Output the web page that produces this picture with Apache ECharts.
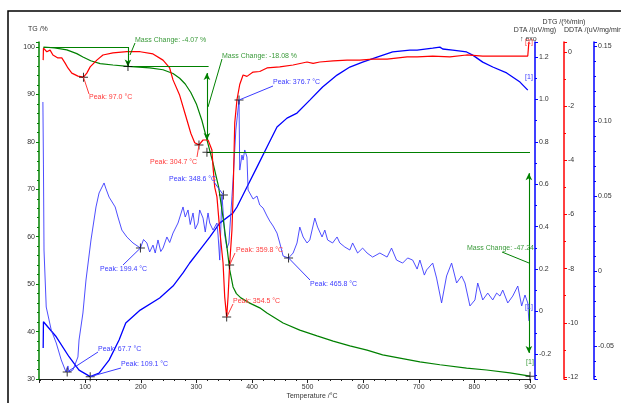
<!DOCTYPE html>
<html>
<head>
<meta charset="utf-8">
<script src="https://cdn.jsdelivr.net/npm/echarts@6.0.0/dist/echarts.min.js"></script>
<style>
  html, body { margin: 0; padding: 0; background: #fff; }
  #chart { width: 621px; height: 403px; }
</style>
</head>
<body>
<div id="chart"></div>
<script>
// temperature in °C, then value on the curve's own axis
const tgData = [[25,100],[45,99.8],[67,99.4],[85,98.6],[96,97.9],[110,97.1],[127,96.5],[150,96.2],[177,95.9],[216,95.6],[240,95.2],[258,94.4],[270,93.4],[280,92.2],[290,90.4],[300,88.0],[310,84.5],[320,80],[330,75.5],[340,70.5],[348,64],[355,57.8],[360,53],[366,49.4],[372,48.0],[380,47.1],[396,46],[414,45],[427,43.9],[456,41.8],[486,40.3],[517,39.1],[546,38],[576,37],[607,36.1],[635,35.1],[666,34.4],[702,33.6],[738,33],[786,32.3],[822,31.9],[864,31.3],[900,30.6]];

const dtgData = [[24.5,-0.3],[25,0.14],[31,0.01],[37,0.07],[42,-0.11],[51,-0.22],[58,-0.22],[64,-0.41],[69,-0.59],[76,-0.78],[87,-0.89],[97,-0.93],[103,-0.78],[109,-0.55],[121,-0.30],[132,-0.11],[150,-0.03],[175,0.01],[199,0.01],[222,-0.07],[240,-0.30],[252,-0.59],[258,-1.03],[270,-1.6],[280,-2.3],[290,-3.0],[297,-3.35],[304.7,-3.43],[312,-3.25],[321,-3.25],[328,-3.62],[330,-4.25],[333,-4.99],[337,-5.35],[342,-6.57],[348,-7.79],[351,-9.05],[354.5,-9.79],[357,-9.05],[360,-7.79],[364,-6.57],[366,-5.35],[369,-2.62],[373,-1.77],[378,-1.2],[384,-0.85],[391,-0.9],[402,-0.74],[414,-0.72],[427,-0.59],[450,-0.55],[474,-0.48],[499,-0.37],[510,-0.42],[522,-0.37],[546,-0.33],[571,-0.30],[594,-0.30],[617,-0.26],[643,-0.26],[679,-0.18],[697,-0.18],[725,-0.15],[756,-0.18],[786,-0.11],[815,-0.15],[846,-0.15],[882,-0.15],[896,-0.15],[898,0.37]];

const dtaData = [[24.5,-0.172],[25,-0.048],[48,-0.119],[71,-0.213],[89,-0.276],[109.1,-0.307],[125,-0.29],[143,-0.229],[161,-0.134],[173,-0.054],[199,0.007],[234,0.064],[258,0.12],[276,0.182],[288,0.229],[306,0.29],[324,0.351],[342,0.417],[366,0.465],[373,0.493],[391,0.587],[409,0.681],[427,0.776],[445,0.87],[463,0.912],[481,0.936],[504,0.997],[527,1.059],[553,1.115],[576,1.153],[599,1.176],[625,1.2],[653,1.224],[684,1.233],[697,1.233],[725,1.242],[738,1.247],[743,1.238],[761,1.233],[786,1.224],[797,1.209],[815,1.176],[833,1.153],[858,1.125],[882,1.082],[896,1.044]];

const ddtaData = [[24,0.1127],[25,0.0707],[26,0.014],[30,-0.024],[39,-0.0393],[48,-0.048],[57,-0.0593],[65.5,-0.0673],[67.7,-0.0673],[69,-0.0633],[71,-0.0673],[78,-0.066],[87,-0.0573],[89,-0.046],[96,-0.028],[101.5,-0.006],[110.5,0.0207],[119.5,0.0427],[125,0.052],[134,0.0587],[137,0.0553],[143,0.0493],[154,0.0427],[159,0.036],[166,0.0273],[175,0.0227],[186,0.0187],[199.4,0.0153],[205,0.021],[211,0.0187],[216,0.0127],[222,0.0173],[226,0.012],[231,0.0207],[236,0.013],[240,0.0153],[247,0.0227],[252,0.019],[258,0.0253],[267,0.032],[276,0.0427],[280,0.036],[285,0.0407],[289,0.031],[294,0.0387],[298,0.028],[303,0.032],[306,0.0407],[312,0.0353],[316,0.026],[319,0.034],[321,0.0387],[324,0.032],[330,0.0273],[337,0.032],[339,0.024],[342,0.0073],[346,0.0507],[348.6,0.0507],[351,0.024],[355,0.0153],[358.5,0.0187],[366,0.0607],[371,0.094],[376.7,0.114],[378,0.0673],[382,0.0773],[384,0.074],[387,0.0807],[391,0.076],[393,0.054],[402,0.048],[409,0.05],[414,0.044],[420,0.042],[427,0.0367],[432,0.0333],[438,0.03],[445,0.0253],[450,0.0187],[456,0.01],[465.8,0.0087],[474,0.012],[481,0.0187],[486,0.0293],[492,0.0227],[499,0.0187],[504,0.0207],[513,0.0353],[518,0.0293],[526,0.0227],[531,0.0273],[536,0.0207],[545,0.0187],[553,0.0227],[558,0.0187],[567,0.016],[576,0.014],[581,0.0187],[590,0.012],[599,0.0153],[607,0.012],[617,0.0093],[630,0.012],[643,0.0093],[651,0.0153],[660,0.0073],[671,0.0053],[680,0.0087],[689,0.0073],[697,0.0013],[702,0.0073],[710,-0.0027],[714,0.0007],[725,0.0053],[732,-0.0047],[741,-0.0213],[750,-0.0033],[759,0.0053],[768,-0.008],[777,-0.0033],[783,-0.008],[792,-0.0233],[801,-0.0193],[806,-0.008],[815,-0.0193],[824,-0.0147],[833,-0.0193],[840,-0.0147],[846,-0.0167],[851,-0.0127],[860,-0.0213],[869,-0.0167],[878,-0.01],[885,-0.0233],[891,-0.016],[896,-0.0213],[898,-0.0333]];

// peak markers
const tgMarks = [[177,95.9],[319,77.8],[900,30.6]];
const dtgPeaks = [[97.0,-0.93],[304.7,-3.43],[354.5,-9.79],[359.8,-7.87]];
const dtaPeaks = [[109.1,-0.307]];
const ddtaPeaks = [[67.7,-0.0673],[199.4,0.0153],[348.6,0.0507],[376.7,0.114],[465.8,0.0087]];

// mass change steps: [T from, T to, TG level] and arrows [T, TG top, TG bottom]
const massText = ['Mass Change: -4.07 %', 'Mass Change: -18.08 %', 'Mass Change: -47.24'];
const levelLines = [[25,177,100],[177,322,95.9],[319,900,77.8]];
const stepArrows = [[177,100,95.9],[319,94.5,80.4],[898,73.4,35.5]];

// label placement in px: [textX, textY, leaderX, leaderY]
const dtgLabelPos = [[89,97,89,94],[150,162,197,157],[233,301,233,304],[236,250,235,253]];
const dtaLabelPos = [[121,364,121,368]];
const ddtaLabelPos = [[98,349,98,352],[100,269,123,265],[169,179,214,182],[273,82,273,86],[310,284,310,280]];
const massLabelPos = [[135,40,135,43,130,55],[222,56,222,59,208,107],[467,248,502,252,529,263]];

const FONT = '"Liberation Sans", Arial, sans-serif';
const GREEN = '#008000', RED = '#ff0000', BLUE = '#0000ff';
const GREEN_T = '#3a9a3a', RED_T = '#ff3a3a', BLUE_T = '#3b3bff';
const CROSS = 'path://M4,0h1v9h-1z M0,4h9v1h-9z';

let myChart = echarts.init(document.getElementById('chart'), null, { renderer: 'canvas' });

function yAxisBase(color, offset, pos, min, max, fmt, minorSplit) {
  return {
    type: 'value', position: pos, offset: offset, min: min, max: max,
    axisLine: { show: true, onZero: false, lineStyle: { color: color, width: 1.5 } },
    axisTick: { show: true, length: 3, lineStyle: { color: color } },
    minorTick: { show: true, splitNumber: minorSplit, length: 2, lineStyle: { color: color } },
    splitLine: { show: false },
    axisLabel: { fontSize: 7, fontFamily: FONT, color: '#333', margin: 4, formatter: fmt },
  };
}

const lineData = [];
levelLines.forEach(l => lineData.push([{ coord: [l[0], l[2]], symbol: 'none' }, { coord: [l[1], l[2]], symbol: 'none' }]));
stepArrows.forEach((a, i) => lineData.push([
  { coord: [a[0], a[1]], symbol: i === 0 ? 'none' : 'arrow', symbolSize: [5, 7] },
  { coord: [a[0], a[2]], symbol: 'arrow', symbolSize: [5, 7] },
]));

function markers(data, yIdx, color) {
  return {
    type: 'scatter', yAxisIndex: yIdx, data: data, symbol: CROSS, symbolSize: 9,
    itemStyle: { color: color }, z: 10, silent: true,
  };
}

myChart.setOption({
  animation: false,
  grid: { left: 39, right: 91, top: 42, bottom: 24 },
  xAxis: {
    type: 'value', min: 17, max: 900, splitNumber: 9,
    axisLine: { show: true, onZero: false, lineStyle: { color: '#222' } },
    axisTick: { length: 4, lineStyle: { color: '#222' } },
    minorTick: { show: true, splitNumber: 5, length: 2, lineStyle: { color: '#222' } },
    splitLine: { show: false },
    axisLabel: {
      fontSize: 7, fontFamily: FONT, color: '#333', margin: 5,
      formatter: v => (Math.abs(v % 100) < 1e-6 ? String(v) : ''),
    },
  },
  yAxis: [
    Object.assign(yAxisBase(GREEN, 0, 'left', 30, 101.05,
      v => (Math.abs(v % 10) < 1e-6 ? String(v) : ''), 5), { interval: 10 }),
    Object.assign(yAxisBase(BLUE, 5, 'right', -0.318, 1.271, v => {
      const r = Math.round(v * 5) / 5;
      if (Math.abs(v - r) > 1e-6) return '';
      return r === 0 ? '0' : r.toFixed(1);
    }, 2), { splitNumber: 8 }),
    Object.assign(yAxisBase(RED, 34, 'right', -12.075, 0.369, v => {
      const r = Math.round(v);
      return Math.abs(v - r) < 1e-6 && r % 2 === 0 ? String(r) : '';
    }, 2), { splitNumber: 6 }),
    Object.assign(yAxisBase(BLUE, 64, 'right', -0.072, 0.1527, v => {
      const r = Math.round(v * 20) / 20;
      if (Math.abs(v - r) > 1e-6) return '';
      return r === 0 ? '0' : r.toFixed(2);
    }, 5), { splitNumber: 5 }),
  ],
  series: [
    {
      name: 'TG', type: 'line', yAxisIndex: 0, data: tgData, showSymbol: false,
      lineStyle: { color: GREEN, width: 1.2 }, z: 3,
      markLine: {
        silent: true, animation: false, label: { show: false },
        lineStyle: { color: GREEN, width: 1.1, type: 'solid' },
        emphasis: { disabled: true },
        data: lineData,
      },
    },
    { name: 'DTG', type: 'line', yAxisIndex: 2, data: dtgData, showSymbol: false, lineStyle: { color: RED, width: 1.2 }, z: 4 },
    { name: 'DTA', type: 'line', yAxisIndex: 1, data: dtaData, showSymbol: false, lineStyle: { color: BLUE, width: 1.3 }, z: 2 },
    { name: 'DDTA', type: 'line', yAxisIndex: 3, data: ddtaData, showSymbol: false, lineStyle: { color: '#3a3aff', width: 0.9 }, z: 2 },
    markers(tgMarks, 0, '#000'),
    markers(dtgPeaks, 2, '#000'),
    markers(dtaPeaks, 1, '#000'),
    markers(ddtaPeaks, 3, '#000'),
  ],
});

function txt(x, y, s, color, align) {
  return {
    type: 'text', x: x, y: y, silent: true, z: 20,
    style: {
      text: s, fill: color, font: '7px ' + FONT,
      align: align || 'left', verticalAlign: 'middle',
      textAlign: align || 'left', textVerticalAlign: 'middle',
    },
  };
}
function seg(x1, y1, x2, y2, color) {
  return { type: 'line', silent: true, z: 19, shape: { x1: x1, y1: y1, x2: x2, y2: y2 }, style: { stroke: color, lineWidth: 1 } };
}

const g = [
  { type: 'rect', silent: true, z: 0, shape: { x: 8, y: 11, width: 700, height: 500 }, style: { fill: 'none', stroke: '#000', lineWidth: 1.5 } },
  txt(28, 29, 'TG /%', '#333'),
  txt(535, 30, 'DTA /(uV/mg)', '#333', 'center'),
  txt(564, 22, 'DTG /(%/min)', '#333', 'center'),
  txt(564, 30, 'DDTA /(uV/mg/min)', '#333'),
  txt(520, 39, '\u2191 exo', '#333'),
  txt(312, 396, 'Temperature /\u00b0C', '#333', 'center'),
  txt(529, 42, '[1]', RED_T, 'center'),
  txt(529, 77, '[1]', BLUE_T, 'center'),
  txt(529, 307, '[1]', BLUE_T, 'center'),
  txt(530, 362, '[1]', GREEN_T, 'center'),
];

function peakLabels(peaks, yIdx, pos, color) {
  peaks.forEach((p, i) => {
    const px = myChart.convertToPixel({ xAxisIndex: 0, yAxisIndex: yIdx }, p);
    const l = pos[i];
    g.push(seg(px[0], px[1], l[2], l[3], color));
    g.push(txt(l[0], l[1], 'Peak: ' + p[0].toFixed(1) + ' \u00b0C', color));
  });
}
peakLabels(dtgPeaks, 2, dtgLabelPos, RED_T);
peakLabels(dtaPeaks, 1, dtaLabelPos, BLUE_T);
peakLabels(ddtaPeaks, 3, ddtaLabelPos, BLUE_T);

massText.forEach((s, i) => {
  const m = massLabelPos[i];
  g.push(txt(m[0], m[1], s, GREEN_T));
  g.push(seg(m[2], m[3], m[4], m[5], GREEN));
});

myChart.setOption({ graphic: g });

window.addEventListener('resize', () => {
  myChart.resize();
});
</script>
</body>
</html>
